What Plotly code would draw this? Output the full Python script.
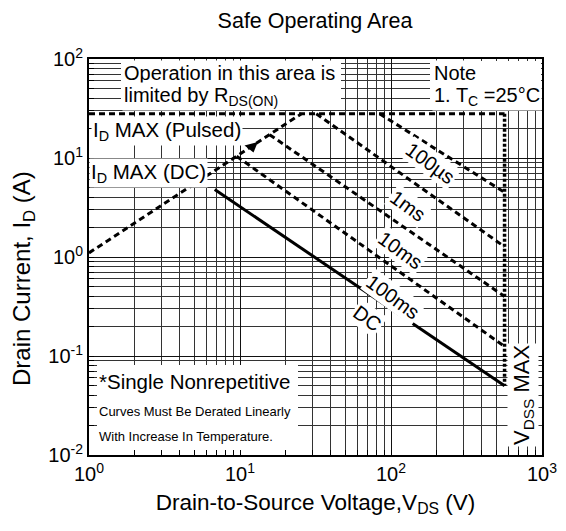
import plotly.graph_objects as go

# ---- data ----
rds_v = [1.0, 25.5]
rds_i = [1.1, 28.0]
pulsed_v = [1.0, 565.0]
pulsed_i = [28.0, 28.0]
us100_v = [84.0, 565.0]
us100_i = [28.0, 4.5]
ms1_v = [32.0, 565.0]
ms1_i = [28.0, 1.27]
ms10_v = [15.7, 565.0]
ms10_i = [17.2, 0.40]
ms100_v = [9.5, 565.0]
ms100_i = [10.4, 0.125]
dc_v = [6.8, 565.0]
dc_i = [4.8, 0.05]
vdss_v = [565.0, 565.0]
vdss_i = [28.0, 0.05]
arrow_v = [12.0]
arrow_i = [13.0]

x_tickvals = [1, 10, 100, 1000]
x_ticktext = ["10<sup>0</sup>", "10<sup>1</sup>", "10<sup>2</sup>", "10<sup>3</sup>"]
y_tickvals = [0.01, 0.1, 1, 10, 100]
y_ticktext = ["10<sup>-2</sup>", "10<sup>-1</sup>", "10<sup>0</sup>", "10<sup>1</sup>", "10<sup>2</sup>"]

FONT = "Arial, Liberation Sans, sans-serif"
DASH = "6px,4px"

def minor_vals(lo, hi):
    vals = []
    d = lo
    while d < hi:
        for m in range(2, 10):
            vals.append(m * d)
        d *= 10
    return vals

fig = go.Figure()
dashed = [(rds_v, rds_i), (pulsed_v, pulsed_i), (us100_v, us100_i), (ms1_v, ms1_i),
          (ms10_v, ms10_i), (ms100_v, ms100_i)]
for xs, ys in dashed:
    fig.add_trace(go.Scatter(x=xs, y=ys, mode="lines",
                             line=dict(color="black", width=3, dash=DASH),
                             showlegend=False, hoverinfo="skip"))
fig.add_trace(go.Scatter(x=vdss_v, y=vdss_i, mode="lines",
                         line=dict(color="black", width=3.5, dash="3px,2px"),
                         showlegend=False, hoverinfo="skip"))
fig.add_trace(go.Scatter(x=dc_v, y=dc_i, mode="lines",
                         line=dict(color="black", width=3),
                         showlegend=False, hoverinfo="skip"))
fig.add_trace(go.Scatter(x=arrow_v, y=arrow_i, mode="markers",
                         marker=dict(symbol="triangle-down", size=12, color="black", angle=-15),
                         showlegend=False, hoverinfo="skip"))

# plot area in the reference picture (page pixels); page has an 8px body margin
OFF = 8
L, R, T, B = 89, 542, 59, 455
W, H = 566 - OFF, 531 - OFF

def px(x, y):
    return (x - L) / (R - L), (B - y) / (B - T)

def box(x0, y0, x1, y1):
    a0, b0 = px(x0, y1)
    a1, b1 = px(x1, y0)
    fig.add_shape(type="rect", xref="paper", yref="paper", x0=a0, y0=b0, x1=a1, y1=b1,
                  fillcolor="white", line=dict(width=0), layer="above")

box(121, 61, 341, 110)
box(430, 61, 541, 110)
box(97, 365, 298, 450)

def ann(text, x, y, size, angle=0, xanchor="left", bg="white", pad=1):
    xx, yy = px(x, y)
    fig.add_annotation(text=text, x=xx, y=yy, xref="paper", yref="paper",
                       showarrow=False, xanchor=xanchor, yanchor="middle",
                       textangle=angle, bgcolor=bg, borderpad=pad,
                       font=dict(family=FONT, size=size, color="black"))

ann("Operation in this area is", 122, 73, 20)
ann("limited by R<sub>DS(ON)</sub>", 122, 97, 20)
ann("Note", 432, 73, 20)
ann("1. T<sub>C</sub> =25°C", 432, 97, 20)
ann("I<sub>D</sub> MAX (Pulsed)", 91, 131, 20.5)
ann("I<sub>D</sub> MAX (DC)", 89, 173, 20.5)
ann("100µs", 430, 163, 20, angle=36, xanchor="center")
ann("1ms", 408, 206, 20, angle=36, xanchor="center")
ann("10ms", 400, 250, 20, angle=36, xanchor="center")
ann("100ms", 393, 297, 20, angle=36, xanchor="center")
ann("DC", 367, 318, 20, angle=36, xanchor="center")
ann("*Single Nonrepetitive", 97, 381, 20.5)
ann("Curves Must Be Derated Linearly", 97, 411, 13)
ann("With Increase In Temperature.", 97, 436, 13)
ann("V<sub>DSS</sub> MAX", 523, 395, 22, angle=-90, xanchor="center")
ann("Drain Current, I<sub>D</sub> (A)", 23, 279, 24, angle=-90, xanchor="center", bg="rgba(0,0,0,0)")

axis_common = dict(
    type="log", showline=True, linecolor="black", linewidth=2, mirror=True,
    showgrid=True, gridcolor="#111", gridwidth=1, ticks="inside", ticklen=5,
    tickcolor="black", tickfont=dict(family=FONT, size=20, color="black"),
    zeroline=False, automargin=False,
)

fig.update_xaxes(range=[0, 3], tickvals=x_tickvals, ticktext=x_ticktext,
                 minor=dict(tickvals=minor_vals(1, 1000), showgrid=True, gridcolor="#333",
                            gridwidth=1, ticks="inside", ticklen=5, tickcolor="black"),
                 title=dict(text="Drain-to-Source Voltage,V<sub>DS</sub> (V)",
                            font=dict(family=FONT, size=22.5, color="black"), standoff=10),
                 **axis_common)
fig.update_yaxes(range=[-2, 2], tickvals=y_tickvals, ticktext=y_ticktext,
                 minor=dict(tickvals=minor_vals(0.01, 100), showgrid=True, gridcolor="#333",
                            gridwidth=1, ticks="inside", ticklen=5, tickcolor="black"),
                 **axis_common)

fig.update_layout(
    width=W, height=H,
    margin=dict(l=L - OFF, r=566 - R, t=T - OFF, b=531 - B),
    paper_bgcolor="white", plot_bgcolor="white",
    title=dict(text="Safe Operating Area", x=(315 - OFF) / W, xanchor="center",
               y=1 - (20 - OFF) / H, yanchor="middle",
               font=dict(family=FONT, size=21.5, color="black")),
)

fig.write_html("out.html")
